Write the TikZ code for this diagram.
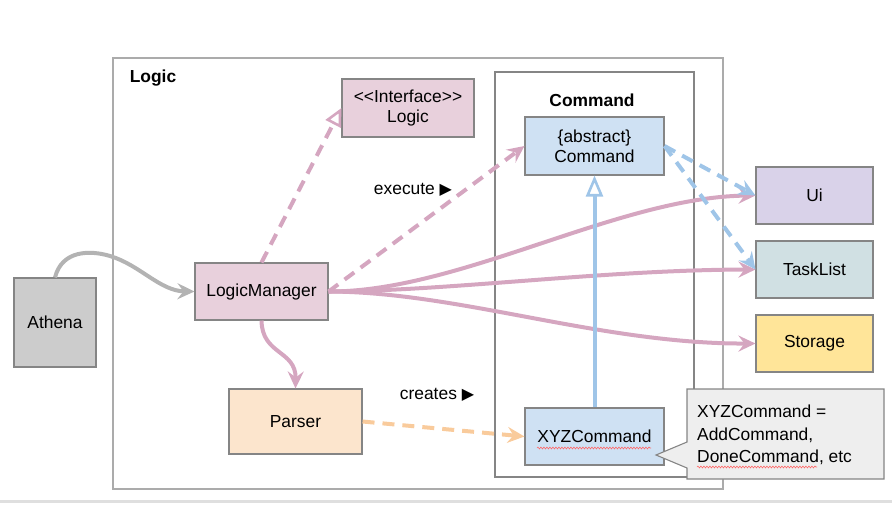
\documentclass[tikz,border=0pt]{standalone}
\usepackage{fontspec}
\setmainfont{Liberation Sans}
\newfontfamily\symfont{DejaVu Sans}
\usetikzlibrary{arrows.meta,decorations.pathmorphing}

\definecolor{boxline}{HTML}{858585}
\definecolor{outerline}{HTML}{ABABAB}
\definecolor{pinkfill}{HTML}{E8D0DC}
\definecolor{pinkline}{HTML}{D5A6C0}
\definecolor{bluefill}{HTML}{CFE1F3}
\definecolor{blueline}{HTML}{9FC5E8}
\definecolor{uifill}{HTML}{D9D2E9}
\definecolor{listfill}{HTML}{D0E0E3}
\definecolor{storefill}{HTML}{FFE599}
\definecolor{parserfill}{HTML}{FCE5CD}
\definecolor{orangeline}{HTML}{F9CB9C}
\definecolor{athenafill}{HTML}{CCCCCC}
\definecolor{grayline}{HTML}{B3B3B3}
\definecolor{notefill}{HTML}{EEEEEE}

\tikzset{
  box/.style 2 args={draw=boxline,line width=1.1pt,minimum width=#1,minimum height=#2,
    inner sep=0pt,align=center},
  tip/.style={-{Stealth[length=17pt,width=16pt,inset=6pt]}},
  opentip/.style={-{Triangle[open,length=18pt,width=17pt,line width=2.6pt]}},
  pinkarrow/.style={draw=pinkline,line width=4pt,tip},
  pinkdash/.style={pinkarrow,dash pattern=on 12pt off 8pt},
  bluedash/.style={draw=blueline,line width=4pt,tip,dash pattern=on 12pt off 8pt},
  spell/.style={draw=red!60,line width=.6pt,decorate,
    decoration={snake,amplitude=.9pt,segment length=3pt}}
}

\begin{document}
\begin{tikzpicture}[x=1pt,y=-1pt,font=\fontsize{17.4}{20}\selectfont]
\useasboundingbox (0,0) rectangle (892,504);

% frames
\draw[outerline,line width=1.3pt] (113,58) rectangle (723,489);
\node[font=\fontsize{17.4}{20}\selectfont\bfseries] (logictitle) at (153,78) {Logic};
\draw[boxline,line width=1.1pt] (495,72) rectangle (694,477);
\node[font=\fontsize{17.4}{20}\selectfont\bfseries] (cmdtitle) at (592,100) {Command};

% classes
\node[box={132pt}{58pt},fill=pinkfill] (iface) at (408,108) {\textless\kern0pt\textless Interface\textgreater\kern0pt\textgreater\\Logic};
\node[box={139pt}{58pt},fill=bluefill] (cmd) at (594.5,146) {\{abstract\}\\Command};
\node[box={133pt}{57pt},fill=pinkfill] (mgr) at (261.5,291.5) {LogicManager};
\node[box={82pt}{89pt},fill=athenafill] (athena) at (55,322.5) {Athena};
\node[box={133pt}{65pt},fill=parserfill] (parser) at (295.5,421.5) {Parser};
\node[box={139pt}{57pt},fill=bluefill] (xyz) at (594.5,436.5) {XYZCommand};
\node[box={117pt}{57pt},fill=uifill] (ui) at (814.5,195.5) {Ui};
\node[box={117pt}{57pt},fill=listfill] (tasks) at (814.5,269.5) {TaskList};
\node[box={117pt}{57pt},fill=storefill] (storage) at (814.5,343.5) {Storage};

% labels
\node (execute) at (413,190) {execute {\symfont\fontsize{16}{18}\selectfont ▶}};
\node (creates) at (437,395) {creates {\symfont\fontsize{16}{18}\selectfont ▶}};

% connectors
\draw[grayline,line width=4pt,tip] (athena.north) .. controls (62,250) and (90,250) .. (110,256)
  .. controls (140,265) and (160,291) .. (mgr.west);
\draw[pinkdash,opentip] (mgr.north) -- (iface.west);
\draw[pinkdash] (mgr.east) -- (cmd.west);
\draw[pinkarrow] (mgr.east) .. controls (460,292) and (618,197) .. (ui.west);
\draw[pinkarrow] (mgr.east) .. controls (450,291) and (600,270) .. (tasks.west);
\draw[pinkarrow] (mgr.east) .. controls (460,292) and (600,344) .. (storage.west);
\draw[pinkarrow] (mgr.south) .. controls (262,355) and (296,350) .. (parser.north);
\draw[draw=orangeline,line width=4pt,tip,dash pattern=on 12pt off 8pt] (parser.east) -- (xyz.west);
\draw[draw=blueline,line width=4pt,-{Triangle[open,length=21pt,width=17pt,line width=2.6pt]}] (xyz.north) -- (cmd.south);
\draw[bluedash] (cmd.east) -- (ui.west);
\draw[bluedash] (cmd.east) -- (tasks.west);

% note
\draw[boxline,fill=notefill,line width=1.1pt] (687,389) -- (884,389) -- (884,479) -- (687,479)
  -- (687,468) -- (656,455) -- (687,442) -- cycle;
\node[anchor=north west,align=left,inner sep=0pt,font=\fontsize{17.4}{22.5}\selectfont] (note) at (697,405)
  {XYZCommand =\\AddCommand,\\DoneCommand, etc};

% spell check marks
\draw[spell] (537,448) -- (651,448);
\draw[spell] (697,467) -- (817,467);

\draw[gray!25,line width=3pt] (0,501) -- (892,501);
\end{tikzpicture}
\end{document}
